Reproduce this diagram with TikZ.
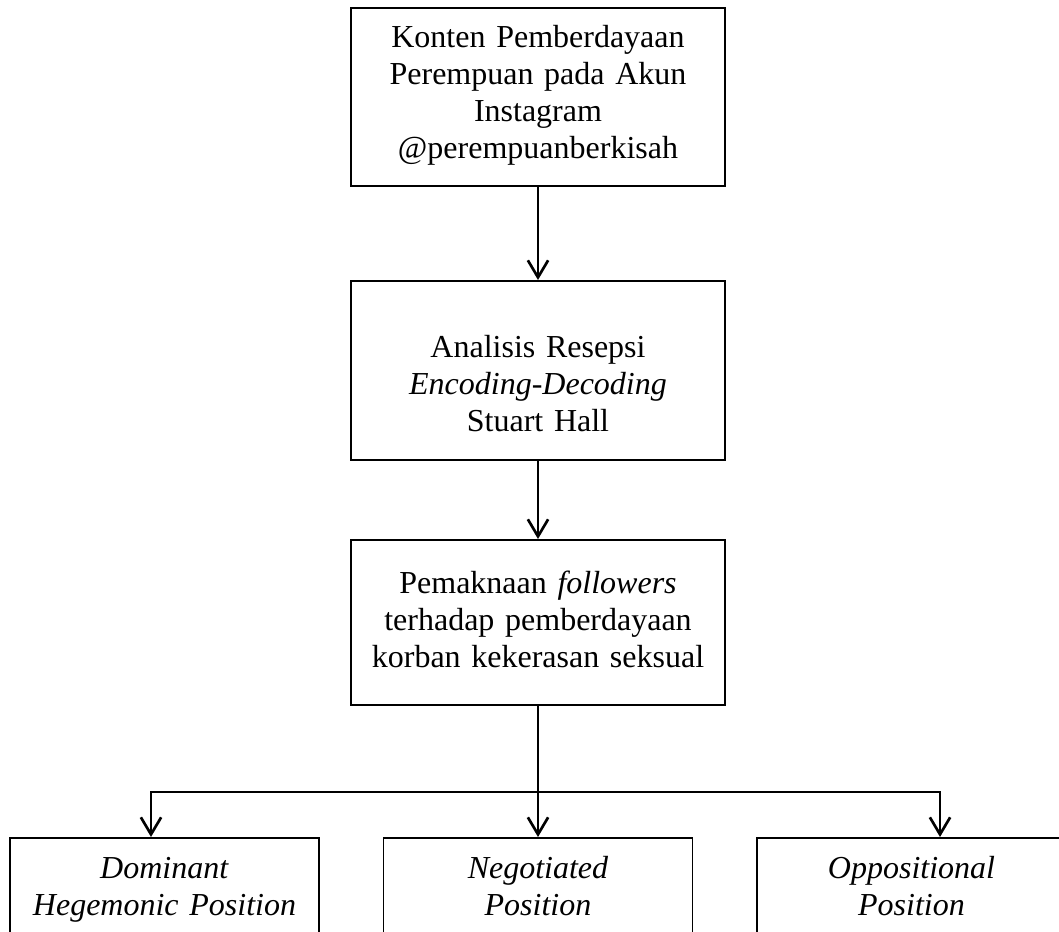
\documentclass[tikz,border=0pt]{standalone}
\usepackage{fontspec}
\setmainfont{Liberation Serif}
\usetikzlibrary{arrows.meta}

\begin{document}
\begin{tikzpicture}[x=0.375pt,y=-0.375pt,line width=1pt,
    >={Straight Barb[length=6.4pt,width=7.6pt,line width=1pt]}]
    \tikzstyle{block}=[draw,line width=0.6pt,anchor=north,align=center,inner xsep=0pt,inner ysep=0pt,font=\fontsize{12}{13.8}\selectfont]
    \tikzstyle{wide block}=[block,text width=140.3pt]
    \tikzstyle{position}=[block,text width=115.9pt,text height=15.4pt,text depth=30pt]
    \tikzstyle{flow}=[->]

    \useasboundingbox (0,0) rectangle (1059,932);
    \clip (0,0) rectangle (1059,932);

    % Main chain of boxes
    \node[wide block,text height=15pt,text depth=51.75pt] (konten) at (538,7) {Konten Pemberdayaan\\Perempuan pada Akun\\Instagram\\@perempuanberkisah};
    \node[wide block,text height=28.9pt,text depth=38.25pt] (resepsi) at (538,280) {Analisis Resepsi\\\textit{Encoding-Decoding}\\Stuart Hall};
    \node[wide block,text height=20.25pt,text depth=41.6pt] (makna) at (538,539) {Pemaknaan \textit{followers}\\terhadap pemberdayaan\\korban kekerasan seksual};

    % Reading positions
    \node[position] (dominant) at (164.5,837) {\textit{Dominant}\\\textit{Hegemonic Position}};
    \node[position] (negotiated) at (538,837) {\textit{Negotiated}\\\textit{Position}};
    \node[position] (oppositional) at (911.5,837) {\textit{Oppositional}\\\textit{Position}};

    \path[flow] (konten) edge (resepsi);
    \path[flow] (resepsi) edge (makna);
    \path[flow] (makna) edge (negotiated);

    % Branches
    \coordinate (split) at (538,792);
    \coordinate (split-l) at (151,792);
    \coordinate (split-r) at (940,792);
    \draw[flow] (split) -- (split-l) -- (split-l |- dominant.north);
    \draw[flow] (split) -- (split-r) -- (split-r |- oppositional.north);
\end{tikzpicture}
\end{document}
